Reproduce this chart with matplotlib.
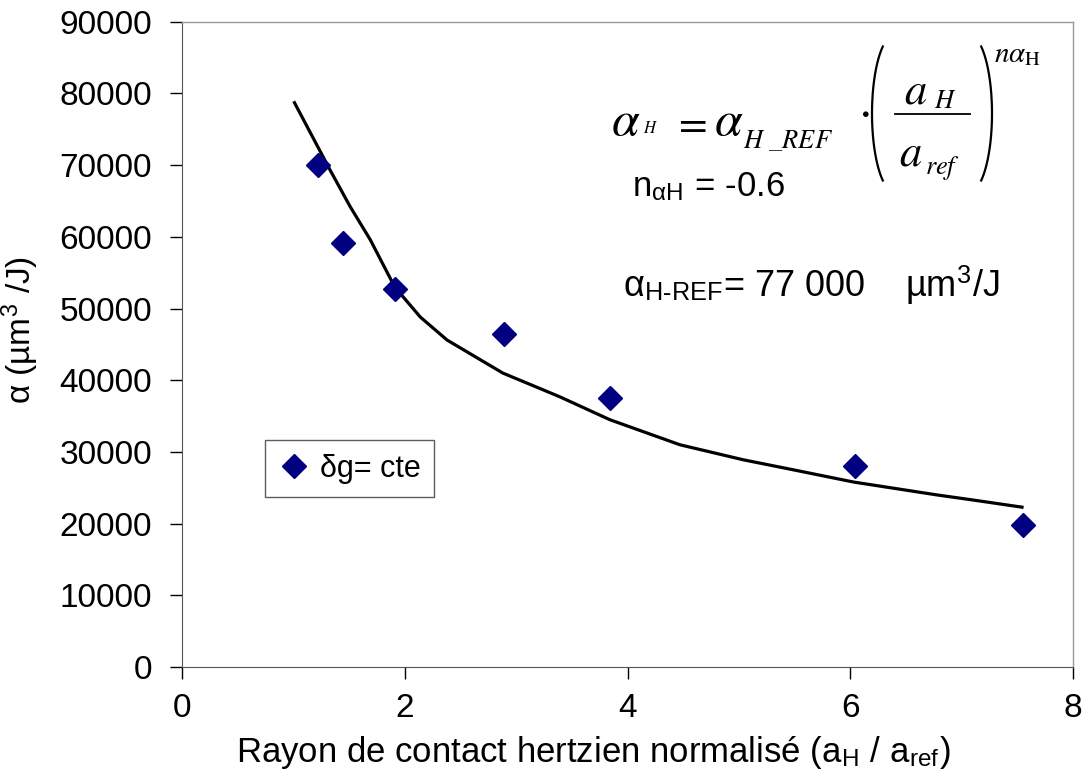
import matplotlib
matplotlib.use('Agg')
import numpy as np
import matplotlib.pyplot as plt
from matplotlib.lines import Line2D
from matplotlib.transforms import Affine2D

plt.rcParams['font.family'] = ['Liberation Sans', 'DejaVu Sans']
plt.rcParams['mathtext.fontset'] = 'stix'

# measured points (delta g = cte)
x_pts = [1.22, 1.45, 1.91, 2.89, 3.84, 6.04, 7.55]
y_pts = [70050, 59100, 52700, 46400, 37500, 28100, 19800]

# power-law fit curve
x_fit = [1.01, 1.33, 1.51, 1.69, 1.91, 2.14, 2.38, 2.88, 3.39, 3.84, 4.47, 5.04, 5.49, 6.03, 6.78, 7.10, 7.54]
y_fit = [78700, 69300, 64200, 59600, 53000, 48800, 45600, 41000, 37700, 34500, 31000, 28900, 27500, 25800, 24000, 23300, 22300]

W, H = 1083, 773
fig = plt.figure(figsize=(W / 100, H / 100), dpi=100)
ax = fig.add_axes([0.168, 0.137, 0.823, 0.835])
# pixel coordinates (from the top) for the formula pieces
px = Affine2D().scale(1 / W, -1 / H).translate(0, 1) + fig.transFigure

ax.plot(x_fit, y_fit, color='black', lw=2.3, zorder=2)
ax.plot(x_pts, y_pts, 'D', color='#000080', ms=12.5, ls='none', label='δg= cte', zorder=3)

ax.set_xlim(0, 8)
ax.set_ylim(0, 90000)
ax.set_xticks([0, 2, 4, 6, 8])
ax.set_yticks(range(0, 90001, 10000))
ax.tick_params(direction='out', length=8.5, width=1, labelsize=24, colors='black')
ax.tick_params(axis='y', pad=13)
ax.tick_params(axis='x', pad=10)

for s in ['top', 'right']:
    ax.spines[s].set_color('#999999')
    ax.spines[s].set_linewidth(1)
for s in ['left', 'bottom']:
    ax.spines[s].set_color('#555555')

ax.set_xlabel(r'Rayon de contact hertzien normalisé (a$_\mathregular{H}$ / a$_\mathregular{ref}$)', fontsize=25)
ax.xaxis.set_label_coords(0.461, -0.103)
ax.set_ylabel(r'α (µm$^\mathregular{3}$ /J)', fontsize=24)
ax.yaxis.set_label_coords(-0.159, 0.522)

leg = ax.legend(loc='upper left', bbox_to_anchor=(0.093, 0.352), fontsize=22, frameon=True,
                fancybox=False, handletextpad=0.35, handlelength=1.0, borderpad=0.45,
                borderaxespad=0)
leg.get_frame().set_edgecolor('#333333')
leg.get_frame().set_linewidth(1)

# formula: alpha_H = alpha_H_REF . (a_H / a_ref)^(n alpha_H)
def ftxt(x, y, s, size):
    fig.text(x, y, s, transform=px, fontsize=size, va='baseline', ha='left')

ftxt(611, 135, r'$\alpha$', 36)
ftxt(643, 133, r'$H$', 12)
ftxt(672, 135, r'$=$', 30)
ftxt(714, 135, r'$\alpha$', 36)
ftxt(743, 148, r'$H\ \_REF$', 19)
ftxt(858, 124, r'$\cdot$', 34)
ftxt(904, 103, r'$a$', 32)
ftxt(934, 108, r'$H$', 19)
ftxt(899, 165, r'$a$', 32)
ftxt(925, 174, r'$ref$', 19)
ftxt(994, 62, r'$n\alpha_{\mathrm{H}}$', 21)
fig.add_artist(Line2D([895, 970], [114, 114], transform=px, color='black', lw=1.3))

# big parentheses as elliptic arcs
t = np.radians(np.linspace(122, 238, 40))
fig.add_artist(Line2D(895 + 23 * np.cos(t), 113.5 + 79 * np.sin(t), transform=px, color='black', lw=1.6))
fig.add_artist(Line2D(969 - 23 * np.cos(t), 113.5 + 79 * np.sin(t), transform=px, color='black', lw=1.6))

ax.text(0.505, 0.745, r'n$_\mathregular{αH}$ = -0.6', transform=ax.transAxes, fontsize=25, va='center')
ax.text(0.495, 0.592, r'α$_\mathregular{H\text{-}REF}$= 77 000    µm$^\mathregular{3}$/J', transform=ax.transAxes,
        fontsize=26, va='center')

fig.savefig('out.png', dpi=100)
